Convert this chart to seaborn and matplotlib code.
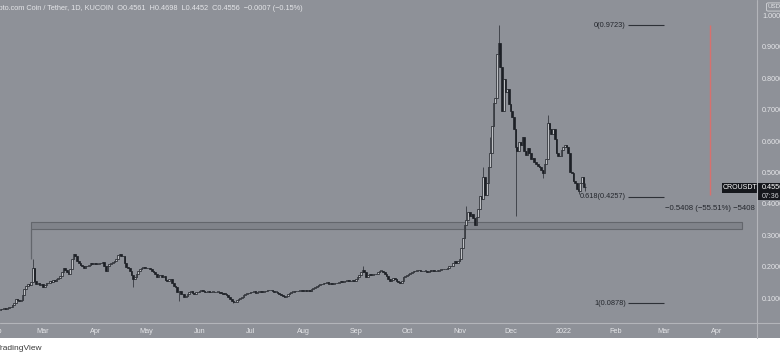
import numpy as np
import pandas as pd
import matplotlib
matplotlib.use("Agg")
import matplotlib.pyplot as plt
import matplotlib.dates as mdates
from matplotlib.patches import Rectangle
from matplotlib.lines import Line2D
import seaborn as sns

# CRO/USDT daily closes (KuCoin)
feb_2021 = [0.068, 0.070, 0.071, 0.069, 0.072, 0.074, 0.076, 0.080, 0.088, 0.100,
            0.097, 0.094, 0.096, 0.112, 0.133, 0.141, 0.149, 0.146, 0.155, 0.200,
            0.158, 0.149, 0.152, 0.145, 0.148]
mar_2021 = [0.140, 0.146, 0.152, 0.150, 0.158, 0.155, 0.160, 0.158, 0.163, 0.168,
            0.174, 0.188, 0.200, 0.192, 0.185, 0.180, 0.196, 0.228, 0.245, 0.236,
            0.220, 0.215, 0.210, 0.206, 0.200, 0.204, 0.206, 0.210, 0.214, 0.212,
            0.215]
apr_2021 = [0.213, 0.212, 0.216, 0.214, 0.218, 0.205, 0.190, 0.204, 0.212, 0.215,
            0.218, 0.222, 0.228, 0.240, 0.245, 0.236, 0.238, 0.215, 0.203, 0.198,
            0.190, 0.178, 0.165, 0.172, 0.180, 0.190, 0.196, 0.198, 0.202, 0.200]
may_2021 = [0.198, 0.200, 0.196, 0.190, 0.187, 0.180, 0.171, 0.176, 0.178, 0.172,
            0.174, 0.162, 0.158, 0.163, 0.165, 0.150, 0.143, 0.140, 0.123, 0.125,
            0.117, 0.115, 0.108, 0.111, 0.118, 0.124, 0.127, 0.120, 0.118, 0.122,
            0.123]
jun_2021 = [0.127, 0.128, 0.126, 0.122, 0.123, 0.125, 0.122, 0.123, 0.124, 0.122,
            0.123, 0.123, 0.121, 0.120, 0.118, 0.117, 0.112, 0.106, 0.100, 0.095,
            0.090, 0.092, 0.097, 0.101, 0.104, 0.108, 0.112, 0.117, 0.119, 0.121]
jul_2021 = [0.122, 0.123, 0.125, 0.121, 0.123, 0.123, 0.126, 0.124, 0.126, 0.127,
            0.129, 0.130, 0.128, 0.125, 0.123, 0.123, 0.119, 0.115, 0.112, 0.109,
            0.108, 0.110, 0.116, 0.121, 0.123, 0.124, 0.126, 0.125, 0.127, 0.127,
            0.128]
aug_2021 = [0.126, 0.128, 0.127, 0.129, 0.127, 0.133, 0.136, 0.139, 0.142, 0.146,
            0.148, 0.149, 0.152, 0.150, 0.154, 0.149, 0.151, 0.148, 0.152, 0.150,
            0.153, 0.155, 0.158, 0.156, 0.159, 0.157, 0.160, 0.158, 0.157, 0.160,
            0.158]
sep_2021 = [0.165, 0.170, 0.176, 0.185, 0.192, 0.188, 0.171, 0.176, 0.180, 0.178,
            0.181, 0.180, 0.179, 0.186, 0.190, 0.191, 0.186, 0.180, 0.174, 0.165,
            0.158, 0.162, 0.166, 0.163, 0.158, 0.155, 0.152, 0.158, 0.171, 0.175]
oct_2021 = [0.177, 0.180, 0.184, 0.187, 0.189, 0.190, 0.192, 0.193, 0.191, 0.189,
            0.190, 0.190, 0.188, 0.191, 0.190, 0.192, 0.189, 0.190, 0.191, 0.194,
            0.196, 0.195, 0.197, 0.196, 0.198, 0.204, 0.206, 0.214, 0.222, 0.215,
            0.220]
nov_2021 = [0.228, 0.262, 0.295, 0.335, 0.352, 0.378, 0.365, 0.372, 0.358, 0.335,
            0.362, 0.386, 0.428, 0.418, 0.490, 0.430, 0.470, 0.520, 0.566, 0.650,
            0.725, 0.740, 0.880, 0.915, 0.840, 0.700, 0.800, 0.760, 0.770, 0.720]
dec_2021 = [0.700, 0.680, 0.640, 0.585, 0.570, 0.600, 0.590, 0.617, 0.570, 0.560,
            0.580, 0.565, 0.545, 0.550, 0.538, 0.530, 0.525, 0.520, 0.510, 0.503,
            0.530, 0.545, 0.660, 0.640, 0.625, 0.640, 0.610, 0.566, 0.556, 0.554,
            0.575]
jan_2022 = [0.585, 0.590, 0.585, 0.566, 0.505, 0.500, 0.475, 0.470, 0.452, 0.443,
            0.470, 0.490, 0.4561, 0.4556]

first_open = 0.066

# wick extremes that stand out on the chart (date: (high, low))
wicks = {
    "2021-02-23": (0.228, None),
    "2021-04-23": (None, 0.140),
    "2021-05-20": (None, 0.093),
    "2021-06-21": (None, 0.0878),
    "2021-09-05": (0.206, None),
    "2021-11-05": (0.396, None),
    "2021-11-15": (0.522, None),
    "2021-11-19": (0.617, None),
    "2021-11-24": (0.9723, None),
    "2021-12-04": (None, 0.364),
    "2021-12-20": (None, 0.487),
    "2021-12-23": (0.687, None),
    "2022-01-10": (None, 0.434),
    "2022-01-14": (0.4698, 0.4452),
}

# fib retracement levels and the box around the old high
fib_high = 0.9723
fib_low = 0.0878
fib_ratios = [0, 0.618, 1]
box_bottom, box_top = 0.323, 0.345

month_ticks = ["2021-02-01", "2021-03-01", "2021-04-01", "2021-05-01", "2021-06-01",
               "2021-07-01", "2021-08-01", "2021-09-01", "2021-10-01", "2021-11-01",
               "2021-12-01", "2022-01-01", "2022-02-01", "2022-03-01", "2022-04-01"]
month_labels = ["Feb", "Mar", "Apr", "May", "Jun", "Jul", "Aug", "Sep", "Oct",
                "Nov", "Dec", "2022", "Feb", "Mar", "Apr"]
price_ticks = [0.1, 0.2, 0.3, 0.4, 0.5, 0.6, 0.7, 0.8, 0.9, 1.0]

BG = "#8e9198"
DARK = "#1d2026"
LIGHT = "#e4e5e8"
SEP = "#b3b5ba"

sns.set_style("dark", rc={"axes.facecolor": BG})
plt.rcParams["font.family"] = ["Liberation Sans", "DejaVu Sans"]

closes = np.array(feb_2021 + mar_2021 + apr_2021 + may_2021 + jun_2021 + jul_2021
                  + aug_2021 + sep_2021 + oct_2021 + nov_2021 + dec_2021 + jan_2022)
dates = pd.date_range("2021-02-04", periods=len(closes), freq="D")
opens = np.concatenate([[first_open], closes[:-1]])
opens[-1] = 0.4561
highs = np.maximum(opens, closes)
lows = np.minimum(opens, closes)
for d, (hi, lo) in wicks.items():
    i = dates.get_loc(pd.Timestamp(d))
    if hi is not None:
        highs[i] = hi
    if lo is not None:
        lows[i] = lo

W, H = 780, 358
fig = plt.figure(figsize=(W / 100, H / 100), dpi=100)
fig.patch.set_facecolor("white")
fig.add_artist(Rectangle((0, 20 / H), 1, 1 - 20 / H, transform=fig.transFigure,
                         facecolor=BG, edgecolor="none", zorder=0))
ax = fig.add_axes([0, 35 / H, 757 / W, 323 / H])
ax.set_facecolor(BG)
ax.grid(False)
for s in ax.spines.values():
    s.set_visible(False)
ax.set_xticks([])
ax.set_yticks([])

# 1.7 px per day, 1 Mar 2021 sits at x=43
mar1 = mdates.date2num(pd.Timestamp("2021-03-01"))
ax.set_xlim(mar1 - 43 / 1.7, mar1 + 714 / 1.7)
ax.set_ylim(0.0242, 1.0519)

xd = mdates.date2num(dates)
up = closes >= opens
ax.vlines(xd, lows, highs, color="#25282e", lw=0.5, zorder=3)
ax.bar(xd, np.maximum(np.abs(closes - opens), 0.0015), bottom=np.minimum(opens, closes),
       width=0.95, color=np.where(up, "#bfc1c5", DARK), edgecolor=DARK,
       linewidth=0.5, zorder=4)

# box at the February spike level
box_start = mdates.date2num(pd.Timestamp("2021-02-22"))
box_end = mdates.date2num(pd.Timestamp("2022-04-16"))
ax.add_patch(Rectangle((box_start, box_bottom), box_end - box_start, box_top - box_bottom,
                       facecolor="#80838a", edgecolor="#63666c", lw=0.8, zorder=2))
ax.vlines(box_start, 0.228, box_bottom, color="#63666c", lw=0.9, zorder=2)

# fib levels
f0 = mdates.date2num(pd.Timestamp("2022-02-08"))
f1 = mdates.date2num(pd.Timestamp("2022-03-01"))
for r in fib_ratios:
    lvl = fib_high - r * (fib_high - fib_low)
    ax.hlines(lvl, f0, f1, color="#2e3137", lw=0.8, zorder=3)
    ax.text(f0 - 1.2, lvl, f"{r:g}({lvl:.4f})", ha="right", va="center",
            fontsize=5.3, color="#24272d")

# measure line
mx = mdates.date2num(pd.Timestamp("2022-03-28")) + 0.3
ax.vlines(mx, fib_high - 0.5408, fib_high, color="#d8706e", lw=1.0, zorder=3)
ax.text(mx, 0.39, "\u22120.5408 (\u221255.51%) \u22125408", ha="center", va="center",
        fontsize=5.6, color="#24272d", clip_on=True)

# time axis labels
xtr = ax.get_xaxis_transform()
for d, lab in zip(month_ticks, month_labels):
    ax.text(mdates.date2num(pd.Timestamp(d)), -0.026, lab, transform=xtr,
            ha="center", va="center", fontsize=5.2, color=LIGHT, clip_on=False)

# price axis labels
ytr = ax.get_yaxis_transform()
for p in price_ticks:
    ax.text(1.0066, p, f"{p:.4f}", transform=ytr, ha="left", va="center",
            fontsize=5.2, color=LIGHT, clip_on=False)

# last price labels
last = closes[-1]
ax.add_patch(Rectangle((0.9538, last - 0.0175), 0.0462, 0.032, transform=ytr,
                       facecolor="#15171c", edgecolor="none", zorder=6))
ax.text(0.977, last - 0.0015, "CROUSDT", transform=ytr, ha="center", va="center",
        fontsize=5.0, color="white", zorder=7)
ax.add_patch(Rectangle((1.0, last - 0.040), 0.04, 0.054, transform=ytr,
                       facecolor="#15171c", edgecolor="none", zorder=6, clip_on=False))
ax.text(1.0066, last, f"{last:.4f}", transform=ytr, ha="left", va="center",
        fontsize=5.2, color="white", zorder=7, clip_on=False)
ax.text(1.0066, last - 0.028, "07:36", transform=ytr, ha="left", va="center",
        fontsize=5.0, color="#d0d2d6", zorder=7, clip_on=False)

# frame lines
fig.add_artist(Line2D([757 / W, 757 / W], [20 / H, 1], transform=fig.transFigure,
                      color=SEP, lw=0.8))
fig.add_artist(Line2D([0, 1], [35 / H, 35 / H], transform=fig.transFigure,
                      color=SEP, lw=0.8))

fig.text(768 / W, 1 - 7 / H, "USDT", ha="left", va="center", fontsize=4.5, color=LIGHT,
         bbox=dict(boxstyle="round,pad=0.25", facecolor="none", edgecolor=LIGHT, lw=0.5))
fig.text(-13 / W, 1 - 8 / H,
         "Crypto.com Coin / Tether, 1D, KUCOIN  O0.4561  H0.4698  L0.4452  C0.4556  "
         "\u22120.0007 (\u22120.15%)",
         ha="left", va="center", fontsize=5.3, color=LIGHT)
fig.text(-4 / W, 9 / H, "TradingView", ha="left", va="center", fontsize=6,
         color="#3a3a3a")

fig.savefig("out.png", dpi=100, facecolor=fig.get_facecolor())
